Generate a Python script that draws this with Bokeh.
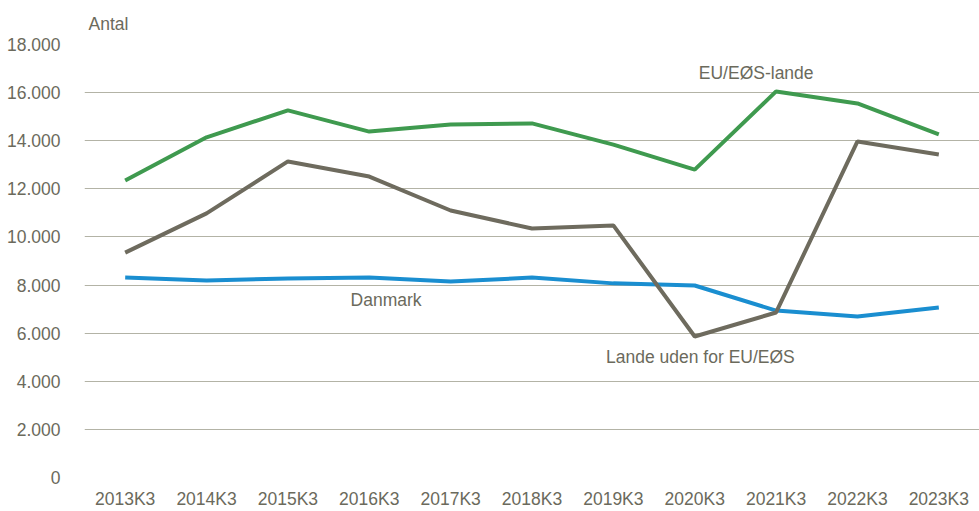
from bokeh.plotting import figure
from bokeh.models import Range1d, FactorRange, Label, FixedTicker
from bokeh.embed import file_html
from bokeh.resources import INLINE

categories = ["2013K3", "2014K3", "2015K3", "2016K3", "2017K3", "2018K3",
              "2019K3", "2020K3", "2021K3", "2022K3", "2023K3"]
eu_eos = [12350, 14140, 15260, 14380, 14670, 14720, 13840, 12800, 16050, 15550, 14260]
uden_for = [9350, 10980, 13140, 12510, 11100, 10350, 10480, 5860, 6860, 13970, 13430]
danmark = [8310, 8190, 8270, 8310, 8150, 8310, 8070, 7980, 6940, 6690, 7070]

y_ticks = [0, 2000, 4000, 6000, 8000, 10000, 12000, 14000, 16000, 18000]
y_tick_labels = ["0", "2.000", "4.000", "6.000", "8.000", "10.000",
                 "12.000", "14.000", "16.000", "18.000"]

FONT = "Liberation Sans"
TXT = "#6b6a5c"
FS = "17.5px"

p = figure(width=979, height=511, x_range=FactorRange(*categories, range_padding=0),
           y_range=Range1d(0, 18000), output_backend="svg", toolbar_location=None,
           min_border_left=84, min_border_right=0, min_border_top=44, min_border_bottom=30,
           title="Antal")
p.outline_line_color = None
p.background_fill_color = "white"
p.border_fill_color = "white"
p.title.text_font = FONT
p.title.text_font_size = FS
p.title.text_font_style = "normal"
p.title.text_color = TXT
p.title.align = "left"
p.title.offset = 4
p.title.standoff = 21

p.line(categories, danmark, line_color="#1a8ed0", line_width=4)
p.line(categories, eu_eos, line_color="#3f9a4f", line_width=4)
p.line(categories, uden_for, line_color="#6e6b5e", line_width=4)

p.xgrid.grid_line_color = None
p.ygrid.grid_line_color = "#b3b3a6"
p.ygrid.grid_line_width = 1
p.yaxis.ticker = FixedTicker(ticks=y_ticks)
p.yaxis.major_label_overrides = {t: l for t, l in zip(y_ticks, y_tick_labels)}

for ax in (p.xaxis[0], p.yaxis[0]):
    ax.axis_line_color = None
    ax.major_tick_line_color = None
    ax.minor_tick_line_color = None
    ax.major_label_text_font = FONT
    ax.major_label_text_font_size = FS
    ax.major_label_text_color = TXT
p.yaxis.major_label_standoff = 18
p.xaxis.major_label_standoff = 5

labels = [
    ("EU/EØS-lande", 7.55, 16800),
    ("Danmark", 3.27, 7360),
    ("Lande uden for EU/EØS", 6.41, 4990),
]
for txt, x, y in labels:
    p.add_layout(Label(x=x, y=y, text=txt, text_font=FONT, text_font_size=FS,
                       text_color=TXT, text_baseline="middle", text_align="left"))

open("out.html", "w").write(file_html(p, INLINE))
